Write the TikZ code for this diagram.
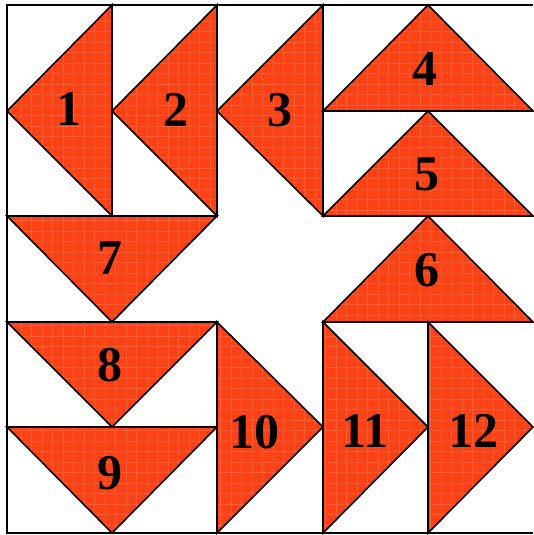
\documentclass[tikz,border=0pt]{standalone}
\usepackage{fontspec}
\setmainfont{Liberation Serif}
\definecolor{goosec}{RGB}{255,66,22}
\newcommand\goosetri[1]{%
  \fill[goosec] #1 -- cycle;
  \begin{scope}
    \clip #1 -- cycle;
    \draw[texture] (0,0) grid[xstep=10.5pt,ystep=10.5pt] (533,535);
  \end{scope}
  \draw[edge] #1 -- cycle;}
\begin{document}
\begin{tikzpicture}[x=1pt,y=-1pt,
  edge/.style={draw=black, line width=1.6pt, line join=miter},
  texture/.style={draw=white, opacity=0.15, line width=0.6pt},
  lbl/.style={font=\fontsize{50}{50}\selectfont\bfseries, inner sep=0pt, text=black},
]
\useasboundingbox (0,0) rectangle (533,535);
\fill[white] (0,0) rectangle (533,535);
% triangles
\goosetri{(112,5) -- (112,216) -- (7,111)}
\goosetri{(217,5) -- (217,216) -- (112,111)}
\goosetri{(323,5) -- (323,216) -- (217,111)}
\goosetri{(323,111) -- (533,111) -- (428,5)}
\goosetri{(323,216) -- (533,216) -- (428,111)}
\goosetri{(323,322) -- (533,322) -- (428,216)}
\goosetri{(7,216) -- (217,216) -- (112,322)}
\goosetri{(7,322) -- (217,322) -- (112,427)}
\goosetri{(7,427) -- (217,427) -- (112,533)}
\goosetri{(217,322) -- (217,533) -- (323,427)}
\goosetri{(323,322) -- (323,533) -- (428,427)}
\goosetri{(428,322) -- (428,533) -- (533,427)}
% frame
\draw[edge, line width=2pt] (533,5) -- (7,5) -- (7,533) -- (533,533);
% labels
\node[lbl] (l1) at (69,109) {1};
\node[lbl] (l2) at (176,110) {2};
\node[lbl] (l3) at (280,110) {3};
\node[lbl] (l4) at (425,69) {4};
\node[lbl] (l5) at (427,174) {5};
\node[lbl] (l6) at (427,270) {6};
\node[lbl] (l7) at (110,258) {7};
\node[lbl] (l8) at (110,365) {8};
\node[lbl] (l9) at (110,473) {9};
\node[lbl] (l10) at (254,432) {10};
\node[lbl] (l11) at (365,431) {11};
\node[lbl] (l12) at (473,431) {12};
\end{tikzpicture}
\end{document}
